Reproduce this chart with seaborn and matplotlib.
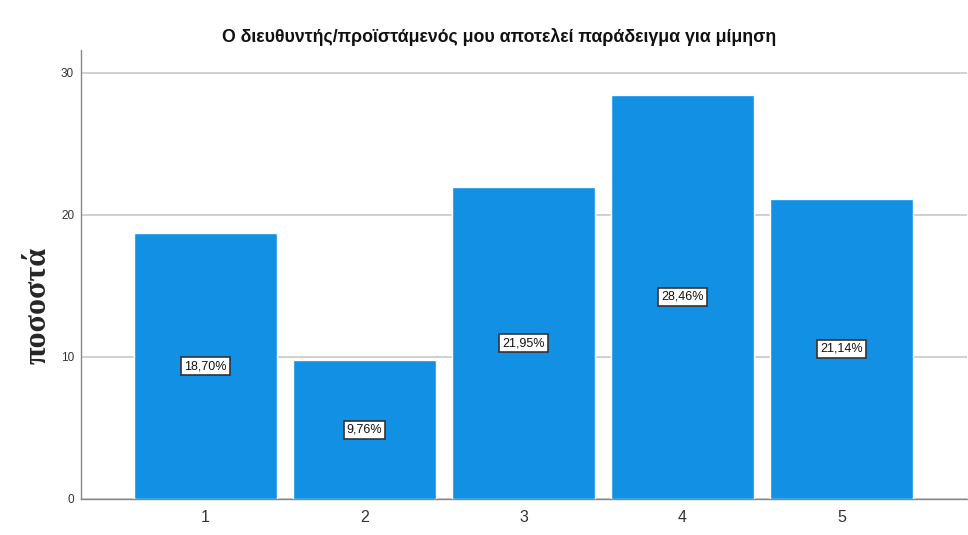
import matplotlib
matplotlib.use("Agg")
import matplotlib.pyplot as plt
import seaborn as sns
import pandas as pd

categories = ["1", "2", "3", "4", "5"]
percentages = [18.70, 9.76, 21.95, 28.46, 21.14]
value_labels = ["18,70%", "9,76%", "21,95%", "28,46%", "21,14%"]
y_ticks = [0, 10, 20, 30]

title = "Ο διευθυντής/προϊστάμενός μου αποτελεί παράδειγμα για μίμηση"
y_label = "ποσοστά"

sns.set_theme(style="white")
plt.rcParams["font.family"] = ["Liberation Sans", "DejaVu Sans"]

df = pd.DataFrame({"category": categories, "percent": percentages})

fig = plt.figure(figsize=(9.68, 5.35), dpi=100)
ax = fig.add_axes([0.0837, 0.0673, 0.9153, 0.8392])

sns.barplot(data=df, x="category", y="percent", color="#1190E4",
            saturation=1, width=0.9, ax=ax, zorder=3)

ax.set_xlim(-0.783, 4.79)
ax.set_ylim(0, 31.6)
ax.set_yticks(y_ticks)
ax.set_yticklabels([str(t) for t in y_ticks], fontsize=8.5, color="#333333")
ax.tick_params(axis="x", labelsize=11.5, colors="#333333", length=0, pad=8)
ax.tick_params(axis="y", length=0, pad=5)
ax.yaxis.grid(True, color="#C8C8C8", linewidth=1.2, zorder=0)
ax.set_axisbelow(True)

for side in ["top", "right"]:
    ax.spines[side].set_visible(False)
for side in ["left", "bottom"]:
    ax.spines[side].set_color("#888888")
    ax.spines[side].set_linewidth(1.0)

for patch, val, lab in zip(ax.patches, percentages, value_labels):
    cx = patch.get_x() + patch.get_width() / 2
    ax.text(cx, val / 2, lab, ha="center", va="center", fontsize=9,
            color="#111111", zorder=5,
            bbox=dict(boxstyle="square,pad=0.25", facecolor="white",
                      edgecolor="#333333", linewidth=1.2))

ax.set_xlabel("")
ax.set_ylabel(y_label, fontsize=23, fontweight="bold",
              family=["Liberation Serif", "DejaVu Serif"])
ax.yaxis.set_label_coords(-0.032, 0.43)

fig.text(0.5155, 0.931, title, ha="center", va="center", fontsize=12.8,
         fontweight="bold", color="#111111")

fig.savefig("out.png", dpi=100)
